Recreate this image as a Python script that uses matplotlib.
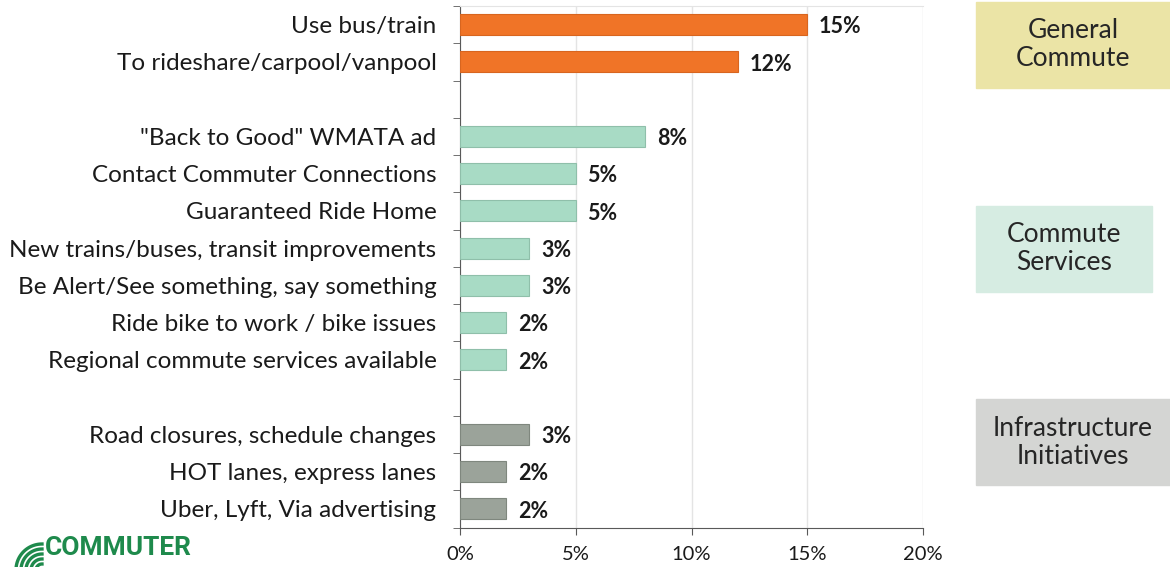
import numpy as np
import matplotlib.pyplot as plt
from matplotlib.patches import Rectangle

# data
general_labels = ["Use bus/train", "To rideshare/carpool/vanpool"]
general_values = [15, 12]
services_labels = ['"Back to Good" WMATA ad', "Contact Commuter Connections",
                   "Guaranteed Ride Home", "New trains/buses, transit improvements",
                   "Be Alert/See something, say something", "Ride bike to work / bike issues",
                   "Regional commute services available"]
services_values = [8, 5, 5, 3, 3, 2, 2]
infra_labels = ["Road closures, schedule changes", "HOT lanes, express lanes",
                "Uber, Lyft, Via advertising"]
infra_values = [3, 2, 2]
group_names = ["General\nCommute", "Commute\nServices", "Infrastructure\nInitiatives"]
x_ticks = [0, 5, 10, 15, 20]

plt.rcParams['font.family'] = ['Lato', 'DejaVu Sans']

fig = plt.figure(figsize=(11.7, 5.67), dpi=100)
ax = fig.add_axes([460/1170, 1-527.5/567, 463/1170, 521.5/567])

# slot positions, blank slot between groups
groups = [(general_labels, general_values, '#F07427', '#D8651F'),
          (services_labels, services_values, '#A8DBC5', '#8FBFAA'),
          (infra_labels, infra_values, '#9BA39A', '#7F877E')]
pos = 0
ylabels = []
ypos = []
for labels, values, color, edge in groups:
    y = np.arange(pos, pos + len(values))
    ax.barh(y, values, height=0.57, color=color, edgecolor=edge, linewidth=0.8, zorder=3)
    for yy, v in zip(y, values):
        ax.text(v + 0.5, yy + 0.06, f"{v}%", va='center', ha='left', fontsize=15.5,
                fontweight='bold', color='#1a1a1a')
    ylabels += labels
    ypos += list(y)
    pos += len(values) + 1
nslots = pos - 1

ax.set_ylim(nslots - 0.5, -0.5)
ax.set_xlim(0, 20)
ax.set_yticks(ypos)
ax.set_yticklabels(ylabels, fontsize=17.5, color='#1a1a1a')
ax.tick_params(axis='y', length=0, pad=17)
ax.set_yticks(np.arange(-0.5, nslots, 1), minor=True)
ax.tick_params(axis='y', which='minor', length=5, direction='out', color='#595959')
ax.set_xticks(x_ticks)
ax.set_xticklabels([f"{t}%" for t in x_ticks], fontsize=14.5, color='#1a1a1a')
ax.tick_params(axis='x', length=5, color='#595959', pad=8)
ax.grid(axis='x', color='#E4E4E4', linewidth=1, zorder=0)
ax.spines['left'].set_color('#595959')
ax.spines['bottom'].set_color('#595959')
ax.spines['right'].set_visible(False)
ax.spines['top'].set_color('#E4E4E4')

# group boxes on the right
boxes = [(976, 2, 194, 86, '#EBE4A6'), (976, 206, 176, 86, '#D6ECE2'),
         (976, 399, 194, 86, '#D4D5D3')]
for (x0, y0, w, h, c), name in zip(boxes, group_names):
    fig.patches.append(Rectangle((x0/1170, 1-(y0+h)/567), w/1170, h/567,
                                 transform=fig.transFigure, color=c, zorder=0))
    fig.text((x0 + w/2)/1170, 1-(y0 + h/2)/567, name, ha='center', va='center',
             fontsize=19, color='#262626', linespacing=1.15)

# logo
fig.text(45/1170, 1-536/567, "COMMUTER", fontsize=19, fontweight='bold',
         color='#1E8A4C', family=['Roboto', 'DejaVu Sans'], va='top', ha='left')
for i in range(5):
    r = 6 + i * 5
    t = np.linspace(0, np.pi/2, 30)
    fig.add_artist(plt.Line2D((42 - r*np.cos(t))/1170, 1-(570 - r*np.sin(t))/567,
                              transform=fig.transFigure, color='#1E8A4C', lw=2.4))

fig.savefig("out.png", dpi=100)
